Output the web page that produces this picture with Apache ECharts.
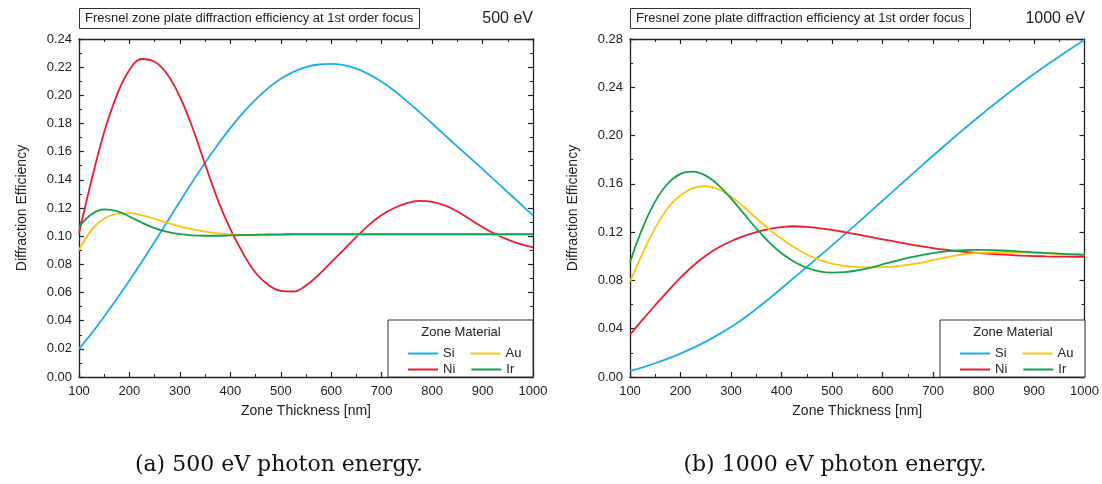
<!DOCTYPE html>
<html><head><meta charset="utf-8">
<script src="https://cdn.jsdelivr.net/npm/echarts@6/dist/echarts.min.js"></script>
<style>html,body{margin:0;padding:0;background:#fff}#c{width:1102px;height:484px}</style>
</head><body><div id="c"></div>
<script>
const thickness = [100,125,150,175,200,225,250,275,300,325,350,375,400,425,450,475,500,525,550,575,600,625,650,675,700,725,750,775,800,825,850,875,900,925,950,975,1000];

// 500 eV
const si500 = [0.0200,0.0310,0.0430,0.0555,0.0685,0.0820,0.0960,0.1103,0.1246,0.1386,0.1521,0.1649,0.1767,0.1875,0.1969,0.2051,0.2117,0.2167,0.2201,0.2219,0.2224,0.2214,0.2189,0.2149,0.2096,0.2032,0.1959,0.1881,0.1800,0.1718,0.1637,0.1557,0.1476,0.1394,0.1312,0.1230,0.1147];
const ni500 = [0.102,0.140,0.174,0.200,0.218,0.2258,0.2238,0.215,0.199,0.177,0.151,0.126,0.105,0.088,0.074,0.0655,0.0612,0.0607,0.065,0.0725,0.0815,0.0905,0.0995,0.108,0.115,0.120,0.1235,0.125,0.1243,0.1218,0.1175,0.112,0.1065,0.1015,0.0975,0.0943,0.092];
const au500 = [0.090,0.1045,0.1125,0.1158,0.1163,0.1148,0.1123,0.1095,0.107,0.1048,0.1032,0.1020,0.1012,0.1007,0.1005,0.1006,0.1008,0.1009,0.101,0.101,0.101,0.101,0.101,0.101,0.101,0.101,0.101,0.101,0.101,0.101,0.101,0.101,0.101,0.101,0.101,0.101,0.101];
const ir500 = [0.1065,0.1155,0.1190,0.1178,0.1140,0.1095,0.1057,0.1030,0.1014,0.1006,0.1003,0.1003,0.1005,0.1008,0.1010,0.1012,0.1013,0.1014,0.1015,0.1015,0.1015,0.1015,0.1015,0.1015,0.1015,0.1015,0.1015,0.1015,0.1015,0.1015,0.1015,0.1015,0.1015,0.1015,0.1015,0.1015,0.1015];

// 1000 eV
const si1000 = [0.0050,0.0080,0.0114,0.0152,0.0194,0.0241,0.0293,0.0351,0.0415,0.0485,0.0563,0.0647,0.0735,0.0823,0.0911,0.1000,0.1090,0.1181,0.1273,0.1366,0.1460,0.1554,0.1648,0.1741,0.1833,0.1924,0.2014,0.2102,0.2188,0.2272,0.2354,0.2434,0.2510,0.2584,0.2656,0.2726,0.2794];
const ni1000 = [0.035,0.0475,0.0595,0.0712,0.0823,0.0922,0.1005,0.1072,0.1125,0.1167,0.1200,0.1225,0.1241,0.1249,0.1243,0.1232,0.1218,0.1200,0.1181,0.1161,0.1141,0.1121,0.1102,0.1084,0.1068,0.1054,0.1042,0.1032,0.1024,0.1017,0.1011,0.1006,0.1002,0.0999,0.0997,0.0996,0.0995];
const au1000 = [0.079,0.1025,0.1235,0.140,0.1505,0.1565,0.158,0.1555,0.1495,0.141,0.1315,0.1225,0.1145,0.1075,0.1015,0.097,0.094,0.092,0.091,0.0907,0.091,0.0917,0.0928,0.0945,0.0968,0.099,0.101,0.1023,0.1029,0.1031,0.1031,0.103,0.1028,0.1025,0.1021,0.1017,0.1013];
const ir1000 = [0.095,0.1235,0.1455,0.1603,0.1683,0.1702,0.1668,0.1590,0.1480,0.1355,0.1230,0.1118,0.1025,0.0955,0.0905,0.0875,0.0864,0.0868,0.0883,0.0905,0.0932,0.0960,0.0986,0.1008,0.1026,0.1040,0.1049,0.1053,0.1053,0.1050,0.1045,0.1039,0.1033,0.1027,0.1021,0.1016,0.1012];

const xTicks = {min:100, max:1000, interval:100};
const yLeft = {min:0, max:0.24, interval:0.02};
const yRight = {min:0, max:0.28, interval:0.04};

const colors = {Si:'#19aee6', Ni:'#ec1c2a', Au:'#ffc20e', Ir:'#12a14a'};
const FONT = 'Liberation Sans';
const AXC = '#222';

const grids = [
  {left:79, top:39, width:454, height:338},
  {left:630, top:39, width:455, height:338}
];

function xAx(g, pos) {
  const bottom = pos === 'bottom';
  return {
    type:'value', gridIndex:g, position:pos, min:xTicks.min, max:xTicks.max, interval:xTicks.interval,
    axisLine:{show:true, onZero:false, lineStyle:{color:AXC, width:1.3}},
    axisTick:{show:true, inside:true, length:5, lineStyle:{color:AXC, width:1.2}},
    minorTick:{show:true, splitNumber:2, length:3, lineStyle:{color:AXC, width:1}},
    splitLine:{show:false}, minorSplitLine:{show:false},
    axisLabel:{show:bottom, fontSize:13, color:AXC, fontFamily:FONT, margin:8, formatter:v=>String(v)},
    name: bottom ? 'Zone Thickness [nm]' : '', nameLocation:'middle', nameGap:27,
    nameTextStyle:{fontSize:14, color:AXC, fontFamily:FONT}
  };
}
function yAx(g, pos, sc) {
  const left = pos === 'left';
  return {
    type:'value', gridIndex:g, position:pos, min:sc.min, max:sc.max, interval:sc.interval,
    axisLine:{show:true, onZero:false, lineStyle:{color:AXC, width:1.3}},
    axisTick:{show:true, inside:true, length:5, lineStyle:{color:AXC, width:1.2}},
    minorTick:{show:true, splitNumber:2, length:3, lineStyle:{color:AXC, width:1}},
    splitLine:{show:false}, minorSplitLine:{show:false},
    axisLabel:{show:left, fontSize:13, color:AXC, fontFamily:FONT, margin:7, formatter:v=>v.toFixed(2)},
    name: left ? 'Diffraction Efficiency' : '', nameLocation:'middle', nameGap:50,
    nameTextStyle:{fontSize:14, color:AXC, fontFamily:FONT}
  };
}

function mk(name, vals, g) {
  return {
    type:'line', name, xAxisIndex:g*2, yAxisIndex:g*2,
    data: thickness.map((t,i)=>[t, vals[i]]),
    smooth:0.4, symbol:'none', showSymbol:false, silent:true, z:2,
    lineStyle:{width:1.8, color:colors[name]}, itemStyle:{color:colors[name]}
  };
}

function legendRow(left, top, names) {
  return {
    left, top, orient:'horizontal', data:names, selectedMode:false, z:10,
    icon:'rect', itemWidth:30, itemHeight:2, itemGap:16,
    textStyle:{fontSize:13, color:AXC, fontFamily:FONT, width:20}
  };
}

const option = {
  animation:false,
  title:[
    {text:'Fresnel zone plate diffraction efficiency at 1st order focus', left:79, top:8, padding:[4,6,4,6],
      borderWidth:1, borderColor:'#333', textStyle:{fontSize:13, fontWeight:'normal', color:AXC, fontFamily:FONT}},
    {text:'500 eV', right:569, top:11, padding:0, textStyle:{fontSize:16, fontWeight:'normal', color:AXC, fontFamily:FONT}},
    {text:'Fresnel zone plate diffraction efficiency at 1st order focus', left:630, top:8, padding:[4,6,4,6],
      borderWidth:1, borderColor:'#333', textStyle:{fontSize:13, fontWeight:'normal', color:AXC, fontFamily:FONT}},
    {text:'1000 eV', right:17, top:11, padding:0, textStyle:{fontSize:16, fontWeight:'normal', color:AXC, fontFamily:FONT}},
    {text:'Zone Material', left:461, top:326, textAlign:'center', padding:0, z:10, textStyle:{fontSize:13, fontWeight:'normal', color:AXC, fontFamily:FONT}},
    {text:'Zone Material', left:1013, top:326, textAlign:'center', padding:0, z:10, textStyle:{fontSize:13, fontWeight:'normal', color:AXC, fontFamily:FONT}},
    {text:'(a) 500 eV photon energy.', left:279, top:454, textAlign:'center', padding:0, textStyle:{fontSize:22, fontWeight:'normal', color:'#111', fontFamily:'DejaVu Serif'}},
    {text:'(b) 1000 eV photon energy.', left:835, top:454, textAlign:'center', padding:0, textStyle:{fontSize:22, fontWeight:'normal', color:'#111', fontFamily:'DejaVu Serif'}}
  ],
  graphic:[
    {type:'rect', shape:{x:388, y:320, width:145, height:57}, style:{fill:'#fff', stroke:'#333', lineWidth:1}, z:1},
    {type:'rect', shape:{x:940, y:320, width:145, height:57}, style:{fill:'#fff', stroke:'#333', lineWidth:1}, z:1}
  ],
  legend:[
    legendRow(403, 342, ['Si','Au']),
    legendRow(403, 358, ['Ni','Ir']),
    legendRow(955, 342, ['Si','Au']),
    legendRow(955, 358, ['Ni','Ir'])
  ],
  grid: grids,
  xAxis:[xAx(0,'bottom'), xAx(0,'top'), xAx(1,'bottom'), xAx(1,'top')],
  yAxis:[yAx(0,'left',yLeft), yAx(0,'right',yLeft), yAx(1,'left',yRight), yAx(1,'right',yRight)],
  series:[
    mk('Si', si500, 0), mk('Ni', ni500, 0), mk('Au', au500, 0), mk('Ir', ir500, 0),
    mk('Si', si1000, 1), mk('Ni', ni1000, 1), mk('Au', au1000, 1), mk('Ir', ir1000, 1)
  ]
};
const chart = echarts.init(document.getElementById('c'), null, {renderer:'canvas'});
chart.setOption(option);
</script></body></html>
